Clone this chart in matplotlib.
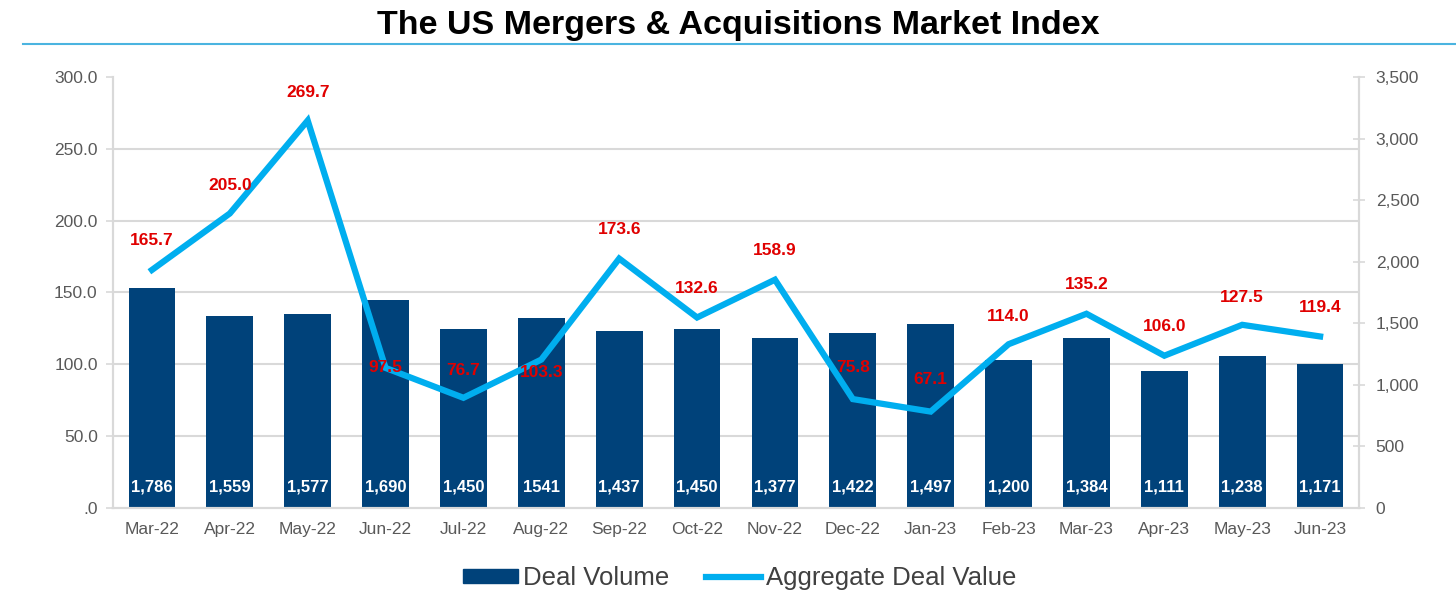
import matplotlib
matplotlib.use("Agg")
import matplotlib.pyplot as plt
import matplotlib.patches as mpatches
from matplotlib.lines import Line2D
from matplotlib.ticker import FuncFormatter, MultipleLocator
import numpy as np

plt.rcParams['font.family'] = ['Liberation Sans', 'DejaVu Sans']

# data
months = ["Mar-22", "Apr-22", "May-22", "Jun-22", "Jul-22", "Aug-22", "Sep-22", "Oct-22",
          "Nov-22", "Dec-22", "Jan-23", "Feb-23", "Mar-23", "Apr-23", "May-23", "Jun-23"]
deal_volume = [1786, 1559, 1577, 1690, 1450, 1541, 1437, 1450,
               1377, 1422, 1497, 1200, 1384, 1111, 1238, 1171]
volume_labels = ["1,786", "1,559", "1,577", "1,690", "1,450", "1541", "1,437", "1,450",
                 "1,377", "1,422", "1,497", "1,200", "1,384", "1,111", "1,238", "1,171"]
deal_value = [165.7, 205.0, 269.7, 97.5, 76.7, 103.3, 173.6, 132.6,
              158.9, 75.8, 67.1, 114.0, 135.2, 106.0, 127.5, 119.4]

# label offsets (points) above each line point
value_label_dy = [21, 20, 20, 0, 20, -9, 21, 21, 21, 23, 23, 20, 21, 21, 20, 21]

NAVY = "#00427A"
SKY = "#00AEEF"
RED = "#E00000"
GRID = "#D9D9D9"
TXT = "#595959"

fig = plt.figure(figsize=(14.56, 6.13), dpi=100)
ax = fig.add_axes([0.0776, 0.1713, 0.8558, 0.7031])   # line axis (left)
ax_bar = ax.twinx()                                   # bar axis (right)
ax.set_zorder(ax_bar.get_zorder() + 1)
ax.patch.set_visible(False)

x = np.arange(len(months))

# bars
ax_bar.bar(x, deal_volume, width=0.6, color=NAVY, zorder=2)
for i, lab in enumerate(volume_labels):
    ax_bar.annotate(lab, (x[i], 0), xytext=(0, 15), textcoords="offset points",
                    ha="center", va="center", color="white", fontsize=12, fontweight="bold")
ax_bar.set_ylim(0, 3500)
ax_bar.yaxis.set_major_locator(MultipleLocator(500))
ax_bar.yaxis.set_major_formatter(FuncFormatter(lambda v, p: f"{v:,.0f}"))
# gridlines matching the left axis steps, drawn under the bars
ax_bar.set_yticks(np.arange(0, 301, 50) * 3500 / 300, minor=True)
ax_bar.tick_params(axis="y", which="minor", length=0)
ax_bar.grid(True, which="minor", axis="y", color=GRID, linewidth=1.5, zorder=0)
ax_bar.set_axisbelow(True)
ax_bar.tick_params(axis="y", which="major", direction="inout", length=8, width=1.2,
                   color=GRID, labelcolor=TXT, labelsize=12.5, pad=8)

# line
ax.plot(x, deal_value, color=SKY, linewidth=4.5, solid_joinstyle="miter", zorder=3)
for i, v in enumerate(deal_value):
    ax.annotate(f"{v:.1f}", (x[i], v), xytext=(0, value_label_dy[i]), textcoords="offset points",
                ha="center", va="center", color=RED, fontsize=12.5, fontweight="bold", zorder=4)
ax.set_ylim(0, 300)
ax.yaxis.set_major_locator(MultipleLocator(50))
ax.yaxis.set_major_formatter(FuncFormatter(lambda v, p: f"{v:.1f}" if v else ".0"))
ax.tick_params(axis="y", direction="out", length=5, width=1.2, color=GRID,
               labelcolor=TXT, labelsize=12.5, pad=6)

ax.set_xlim(-0.5, len(months) - 0.5)
ax.set_xticks(x)
ax.set_xticklabels(months)
ax.tick_params(axis="x", length=0, labelcolor=TXT, labelsize=12.5, pad=10)

for a in (ax, ax_bar):
    a.spines["top"].set_visible(False)
    for s in ("left", "right", "bottom"):
        a.spines[s].set_color(GRID)
        a.spines[s].set_linewidth(1.5)

# title and rule
fig.text(0.507, 0.958, "The US Mergers & Acquisitions Market Index", ha="center", va="center",
         fontsize=24.5, fontweight="bold", color="black")
fig.add_artist(Line2D([0.016, 1.0], [0.928, 0.928], color="#4BB4E0", linewidth=1.5,
                      transform=fig.transFigure))

# legend
handles = [mpatches.Patch(color=NAVY, label="Deal Volume"),
           Line2D([0], [0], color=SKY, linewidth=4.5, label="Aggregate Deal Value")]
fig.legend(handles=handles, loc="center", bbox_to_anchor=(0.508, 0.057), ncol=2,
           frameon=False, fontsize=18.5, labelcolor="#404040", handlelength=2.15,
           handleheight=0.5, handletextpad=0.2, columnspacing=1.4)

fig.savefig("out.png", dpi=100)
